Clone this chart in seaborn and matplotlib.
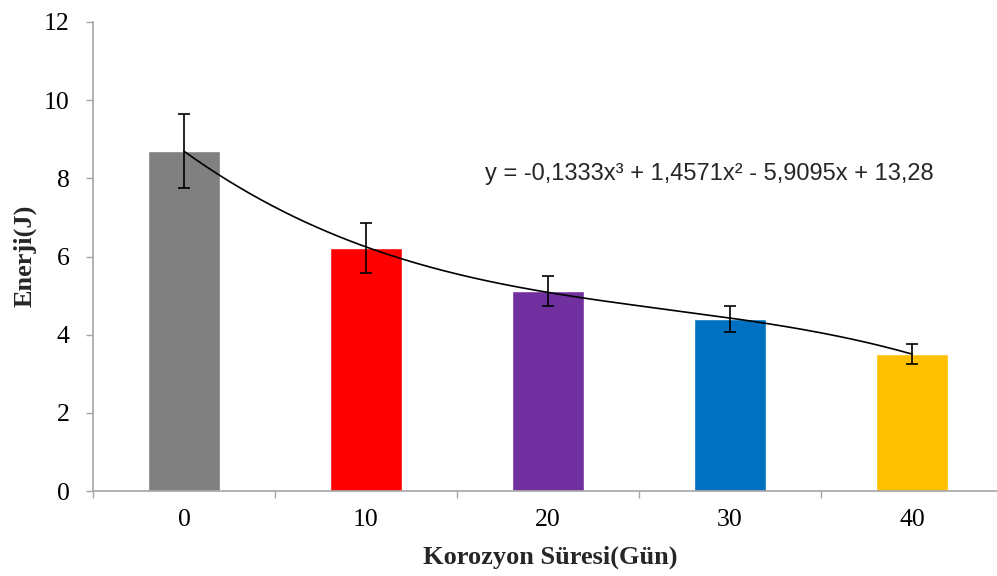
import numpy as np
import pandas as pd
import matplotlib
matplotlib.use("Agg")
import matplotlib.pyplot as plt
import seaborn as sns

days = ["0", "10", "20", "30", "40"]
energy = [8.70, 6.22, 5.12, 4.40, 3.51]
err = [0.95, 0.63, 0.375, 0.33, 0.25]
colors = ["#808080", "#FF0000", "#7030A0", "#0070C0", "#FFC000"]
y_ticks = [0, 2, 4, 6, 8, 10, 12]
equation = "y = -0,1333x³ + 1,4571x² - 5,9095x + 13,28"
xlabel = "Korozyon Süresi(Gün)"
ylabel = "Enerji(J)"

sns.set_theme(style="white")
plt.rcParams["font.family"] = ["Liberation Serif", "DejaVu Serif"]

df = pd.DataFrame({"day": days, "energy": energy})

W, H = 997, 576
fig = plt.figure(figsize=(W / 100, H / 100), dpi=100)
ax = fig.add_axes([93 / W, (H - 491) / H, 910 / W, 469 / H])

sns.barplot(data=df, x="day", y="energy", hue="day", palette=colors,
            order=days, hue_order=days, width=0.4, legend=False,
            errorbar=None, saturation=1, ax=ax)

xpos = np.arange(len(days))
ax.errorbar(xpos, energy, yerr=err, fmt="none", ecolor="black",
            elinewidth=1.2, capsize=4.3, capthick=1.2, zorder=5)

# polynomial (order 3) trendline fitted to the bar values, x = 1..5 as in Excel
xs = np.arange(1, len(days) + 1)
coef = np.polyfit(xs, energy, 3)
xx = np.linspace(1, len(days), 200)
ax.plot(xx - 1, np.polyval(coef, xx), color="black", lw=1.2, zorder=4)

ax.set_xlim(-0.5, len(days) - 0.5)
ax.set_ylim(0, 12)
ax.set_yticks(y_ticks)
ax.set_yticklabels([str(v) for v in y_ticks])
ax.set_xticks(xpos)
ax.set_xticklabels(days)
ax.set_xticks(np.arange(-0.5, len(days)), minor=True)
ax.tick_params(axis="x", which="major", length=0, pad=13, labelsize=18.5,
               labelcolor="black")
ax.tick_params(axis="x", which="minor", length=5, width=1, color="#A6A6A6",
               direction="out", bottom=True)
ax.tick_params(axis="y", which="major", length=5, width=1, color="#A6A6A6",
               direction="out", left=True, pad=12, labelsize=18.5,
               labelcolor="black")

for s in ["top", "right"]:
    ax.spines[s].set_visible(False)
for s in ["left", "bottom"]:
    ax.spines[s].set_color("#A6A6A6")
    ax.spines[s].set_linewidth(1.2)

ax.set_xlabel("")
ax.set_ylabel("")
fig.text(550 / W, 1 - 557 / H, xlabel, fontsize=19, fontweight="bold",
         ha="center", va="center")
fig.text(25 / W, 1 - 256 / H, ylabel, fontsize=19, fontweight="bold",
         ha="center", va="center", rotation=90)

fig.text(485 / W, 1 - 174 / H, equation, fontsize=17,
         family=["Liberation Sans", "DejaVu Sans"], va="center", ha="left")

fig.savefig("out.png", dpi=100)
